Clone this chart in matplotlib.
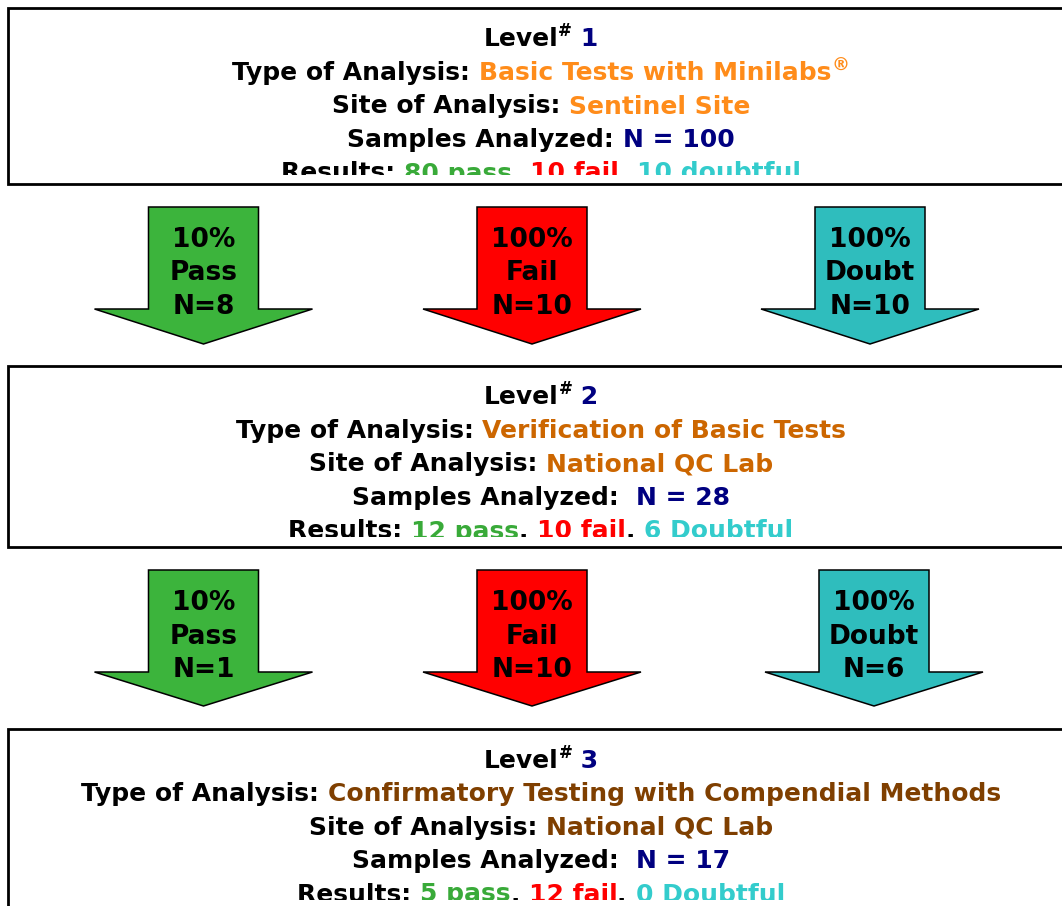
import matplotlib.pyplot as plt
from matplotlib.patches import Rectangle, Polygon
from matplotlib.transforms import Bbox

# level boxes
levels = ['1', '2', '3']
analysis_types = ['Basic Tests with Minilabs', 'Verification of Basic Tests',
                  'Confirmatory Testing with Compendial Methods']
sites = ['Sentinel Site', 'National QC Lab', 'National QC Lab']
samples_n = [100, 28, 17]
pass_n = [80, 12, 5]
fail_n = [10, 10, 12]
doubt_n = [10, 6, 0]
doubt_word = ['doubtful', 'Doubtful', 'Doubtful']

# arrows between levels
arrow_pct = [['10%', '100%', '100%'], ['10%', '100%', '100%']]
arrow_labels = ['Pass', 'Fail', 'Doubt']
arrow_n = [[8, 10, 10], [1, 10, 6]]

type_colors = ['#FF8C1A', '#CC6600', '#7F3F00']
NAVY = '#000080'
GREEN_T = '#39AA39'
RED_T = '#FF0000'
TEAL_T = '#33CCCC'
arrow_colors = ['#3CB43C', '#FF0000', '#2FBDBD']

W, H = 1062, 906
fig = plt.figure(figsize=(W / 100, H / 100), dpi=100)
ax = fig.add_axes([0, 0, 1, 1])
ax.set_xlim(0, W)
ax.set_ylim(H, 0)
ax.axis('off')
r = fig.canvas.get_renderer()

FS = 18


def piece_width(s, sz):
    t = ax.text(0, 0, '|' + s + '|', fontsize=sz, fontweight='bold')
    w1 = t.get_window_extent(r).width
    t.set_text('||')
    w0 = t.get_window_extent(r).width
    t.remove()
    return w1 - w0


def rich_line(pieces, cx, y, clip):
    # pieces: (text, color, size, raise)
    widths = [piece_width(p[0], p[2]) for p in pieces]
    x = cx - sum(widths) / 2
    for (s, c, sz, dy), w in zip(pieces, widths):
        t = ax.text(x, y - dy, s, color=c, fontsize=sz, fontweight='bold',
                    ha='left', va='baseline')
        t.set_clip_box(clip)
        t.set_clip_on(True)
        x += w


box_tops = [8, 366, 729]
box_bottoms = [184, 547, 940]
clip_off = [167, 171, 171]
cx = 541
for i in range(3):
    top = box_tops[i]
    ax.add_patch(Rectangle((8, top), 1080, box_bottoms[i] - top, facecolor='white',
                           edgecolor='black', lw=2, clip_on=False))
    clip = Bbox.from_extents(0, H - (top + clip_off[i]), W, H - top)
    sup = [('Level', 'black', FS, 0), ('#', 'black', 12, 10), (' ' + levels[i], NAVY, FS, 0)]
    gap = ' ' if i == 0 else '  '
    lines = [
        sup,
        [('Type of Analysis: ', 'black', FS, 0), (analysis_types[i], type_colors[i], FS, 0)]
        + ([('®', type_colors[i], 13, 9)] if i == 0 else []),
        [('Site of Analysis: ', 'black', FS, 0), (sites[i], type_colors[i], FS, 0)],
        [('Samples Analyzed:' + gap, 'black', FS, 0), ('N = %d' % samples_n[i], NAVY, FS, 0)],
        [('Results: ', 'black', FS, 0), ('%d pass' % pass_n[i], GREEN_T, FS, 0),
         (', ', 'black', FS, 0), ('%d fail' % fail_n[i], RED_T, FS, 0),
         (', ', 'black', FS, 0), ('%d %s' % (doubt_n[i], doubt_word[i]), TEAL_T, FS, 0)],
    ]
    for k, ln in enumerate(lines):
        rich_line(ln, cx, top + 38.5 + k * 33.5, clip)

shaft_tops = [207, 570]
head_bases = [309, 672]
tips = [344, 706]
arrow_x = [[203.5, 532, 870], [203.5, 532, 874]]
for row in range(2):
    for j in range(3):
        c = arrow_x[row][j]
        t0, b, tp = shaft_tops[row], head_bases[row], tips[row]
        pts = [(c - 55, t0), (c + 55, t0), (c + 55, b), (c + 109, b), (c, tp),
               (c - 109, b), (c - 55, b)]
        ax.add_patch(Polygon(pts, closed=True, facecolor=arrow_colors[j],
                             edgecolor='black', lw=1.1))
        txt = [arrow_pct[row][j], arrow_labels[j], 'N=%d' % arrow_n[row][j]]
        for k, s in enumerate(txt):
            ax.text(c, t0 + 40 + k * 33.5, s, fontsize=19, fontweight='bold',
                    color='black', ha='center', va='baseline')

fig.savefig('out.png', dpi=100)
